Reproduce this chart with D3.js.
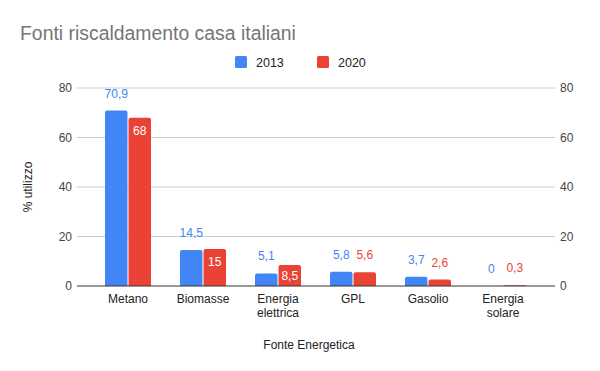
<!DOCTYPE html>
<html>
<head>
<meta charset="utf-8">
<script src="https://cdn.jsdelivr.net/npm/d3@7"></script>
<style>
  body { margin: 0; background: #fff; }
  text { font-family: Arial, "Liberation Sans", sans-serif; }
</style>
</head>
<body>
<div id="chart"></div>
<script>
// Fonti riscaldamento - grouped bars
const categories = ["Metano", "Biomasse", "Energia\nelettrica", "GPL", "Gasolio", "Energia\nsolare"];
const series_names = ["2013", "2020"];
const values_2013 = [70.9, 14.5, 5.1, 5.8, 3.7, 0];
const values_2020 = [68, 15, 8.5, 5.6, 2.6, 0.3];
const y_ticks = [0, 20, 40, 60, 80];
const colors = ["#4285f4", "#ea4335"];

const width = 600;
const height = 371;

const svg = d3.select("#chart").append("svg")
    .attr("width", width)
    .attr("height", height);

const x_scale = d3.scaleBand().domain(categories).range([90.5, 540.5]);
const x_inner = d3.scaleBand().domain(series_names).range([14.5, 60.5]).paddingInner(0.045);
const y_scale = d3.scaleLinear().domain([0, 80]).range([286, 88]);

const fmt = v => String(v).replace(".", ",");

// gridlines
svg.append("g").selectAll("line")
    .data(y_ticks.filter(d => d > 0))
    .join("line")
    .attr("x1", 77).attr("x2", 555)
    .attr("y1", d => y_scale(d)).attr("y2", d => y_scale(d))
    .attr("stroke", "#cccccc");

// left & right tick labels
const left_axis = svg.append("g").attr("transform", "translate(77,0)")
    .call(d3.axisLeft(y_scale).tickValues(y_ticks).tickSize(0).tickPadding(5));
const right_axis = svg.append("g").attr("transform", "translate(555,0)")
    .call(d3.axisRight(y_scale).tickValues(y_ticks).tickSize(0).tickPadding(5));
[left_axis, right_axis].forEach(a => {
    a.select(".domain").remove();
    a.selectAll("text")
        .style("font-size", "12px")
        .style("font-family", "Arial, 'Liberation Sans', sans-serif")
        .attr("fill", "#444");
});

// bars
const bar_data = [];
categories.forEach((c, i) => {
    bar_data.push({ cat: c, s: "2013", v: values_2013[i], k: 0 });
    bar_data.push({ cat: c, s: "2020", v: values_2020[i], k: 1 });
});

const r = 2;
svg.append("g").selectAll("path")
    .data(bar_data.filter(d => d.v > 0))
    .join("path")
    .attr("fill", d => colors[d.k])
    .attr("d", d => {
        const x0 = x_scale(d.cat) + x_inner(d.s);
        const w = x_inner.bandwidth();
        const y0 = y_scale(d.v);
        const y1 = y_scale(0);
        const rr = Math.min(r, (y1 - y0));
        return `M${x0},${y1}V${y0 + rr}Q${x0},${y0} ${x0 + rr},${y0}H${x0 + w - rr}Q${x0 + w},${y0} ${x0 + w},${y0 + rr}V${y1}Z`;
    });

// value labels: 2013 always above; 2020 inside when the bar is tall enough
svg.append("g").selectAll("text")
    .data(bar_data)
    .join("text")
    .attr("x", d => x_scale(d.cat) + x_inner(d.s) + x_inner.bandwidth() / 2)
    .attr("y", d => {
        const top = y_scale(d.v);
        const h = y_scale(0) - top;
        if (d.k === 1 && d.v >= 8) return top + Math.min(13, h / 2) + 4.5;
        return top - 13;
    })
    .attr("text-anchor", "middle")
    .style("font-size", "12px")
    .attr("fill", d => (d.k === 1 && d.v >= 8) ? "#fff" : colors[d.k])
    .text(d => fmt(d.v));

// baseline
svg.append("line")
    .attr("x1", 77).attr("x2", 555)
    .attr("y1", y_scale(0)).attr("y2", y_scale(0))
    .attr("stroke", "#333");

// category labels
const cat_g = svg.append("g").selectAll("text")
    .data(categories)
    .join("text")
    .attr("x", d => x_scale(d) + x_scale.bandwidth() / 2)
    .attr("y", 303)
    .attr("text-anchor", "middle")
    .style("font-size", "12px")
    .attr("fill", "#222");
cat_g.selectAll("tspan")
    .data(d => d.split("\n"))
    .join("tspan")
    .attr("x", function() { return d3.select(this.parentNode).attr("x"); })
    .attr("dy", (d, i) => i === 0 ? 0 : 14)
    .text(d => d);

// axis titles
svg.append("text")
    .attr("x", 309).attr("y", 349)
    .attr("text-anchor", "middle")
    .style("font-size", "12px")
    .attr("fill", "#222")
    .text("Fonte Energetica");

svg.append("text")
    .attr("transform", "translate(32,187) rotate(-90)")
    .attr("text-anchor", "middle")
    .style("font-size", "12px")
    .attr("fill", "#222")
    .text("% utilizzo");

// title
svg.append("text")
    .attr("x", 20).attr("y", 40)
    .style("font-size", "19.4px")
    .attr("fill", "#757575")
    .text("Fonti riscaldamento casa italiani");

// legend
const legend_x = [235, 317];
const legend = svg.append("g").selectAll("g")
    .data(series_names)
    .join("g")
    .attr("transform", (d, i) => `translate(${legend_x[i]},56)`);
legend.append("rect")
    .attr("width", 12).attr("height", 12).attr("rx", 1.5)
    .attr("fill", (d, i) => colors[i]);
legend.append("text")
    .attr("x", 21).attr("y", 10.5)
    .style("font-size", "12.5px")
    .attr("fill", "#222")
    .text(d => d);
</script>
</body>
</html>
